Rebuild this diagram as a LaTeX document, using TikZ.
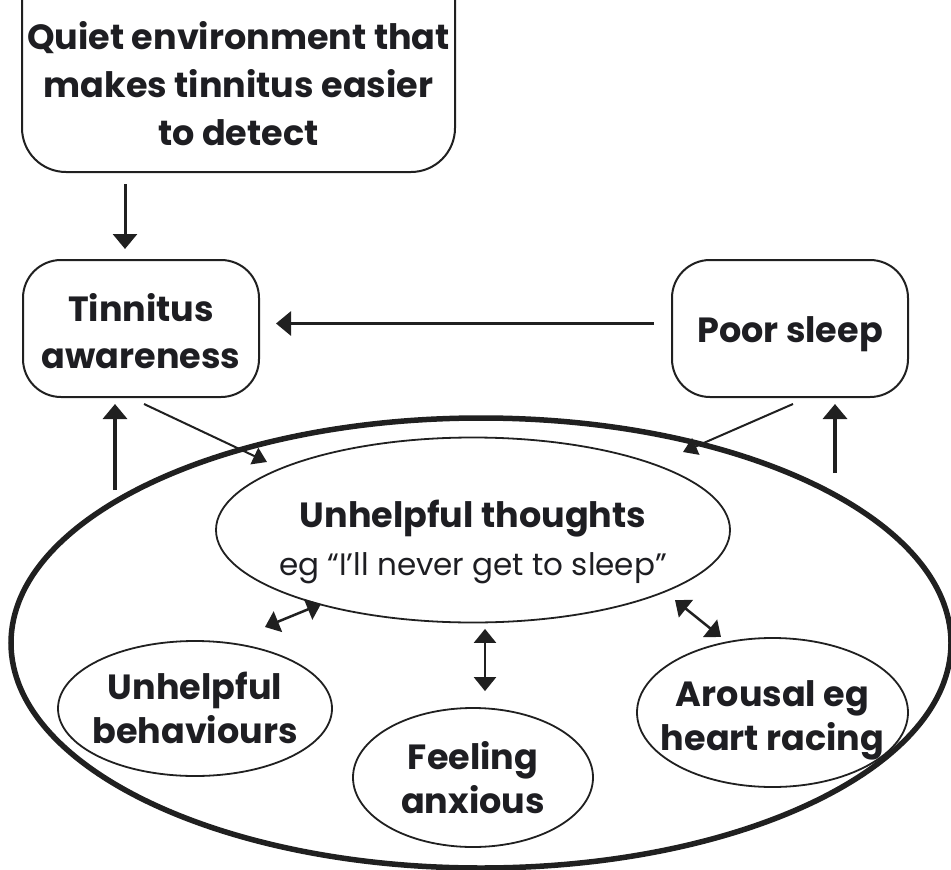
\documentclass[tikz,border=0pt]{standalone}
\usepackage{fontspec}
\setmainfont{Poppins}
\usetikzlibrary{shapes.geometric,arrows.meta}
\definecolor{ink}{HTML}{1E1E22}
\definecolor{linec}{HTML}{202020}
\begin{document}
\begin{tikzpicture}[x=1pt,y=-1pt,
  lbl/.style={text=ink, align=center, inner sep=0pt, font=\bfseries\fontsize{35}{47}\selectfont},
  boxst/.style={draw=linec, line width=2pt, rounded corners=38pt, inner sep=0pt,
    minimum width=236pt, minimum height=137pt},
  oval/.style={ellipse, draw=linec, line width=1.8pt, inner sep=0pt},
  ovallbl/.style={lbl, font=\bfseries\fontsize{35}{44}\selectfont},
  bigov/.style={ellipse, draw=linec, line width=5.5pt, inner sep=0pt,
    minimum width=940pt, minimum height=450pt},
  arr/.style={-{Triangle[length=15pt,width=24pt]}, line width=3pt, draw=linec},
  darr/.style={-{Triangle[length=14pt,width=18pt]}, line width=2pt, draw=linec},
  dbl/.style={{Triangle[length=14pt,width=22pt]}-{Triangle[length=14pt,width=22pt]},
    line width=2.5pt, draw=linec}]
\useasboundingbox (0,0) rectangle (951,870);
\fill[white] (0,0) rectangle (951,870);

% top box
\node[draw=linec, line width=2pt, rounded corners=44pt, inner sep=0pt,
  minimum width=433pt, minimum height=232pt] (quiet) at (238.5,56) {};
\node[lbl, font=\bfseries\fontsize{35}{48}\selectfont] (quiettxt) at (238.5,84)
  {Quiet environment that\\makes tinnitus easier\\to detect};

% side boxes
\node[boxst] (aware) at (141,328.5) {};
\node[lbl] (awaretxt) at (141,331) {Tinnitus\\awareness};
\node[boxst] (sleep) at (790,328.5) {};
\node[lbl] (sleeptxt) at (790,334) {Poor sleep};

% ellipses
\node[bigov] (big) at (481,643) {};
\node[oval, minimum width=514pt, minimum height=185pt] (thoughts) at (473,530) {};
\node[lbl, font=\bfseries\fontsize{35}{48}\selectfont] (thoughtstxt) at (473,542)
  {Unhelpful thoughts\\{\mdseries\fontsize{31}{48}\selectfont eg “I’ll never get to sleep”}};
\node[oval, minimum width=274pt, minimum height=135pt] (behav) at (195,708.5) {};
\node[ovallbl] (behavtxt) at (195,707.5) {Unhelpful\\behaviours};
\node[oval, minimum width=240pt, minimum height=139pt] (anx) at (473,777.5) {};
\node[ovallbl] (anxtxt) at (473,778) {Feeling\\anxious};
\node[oval, minimum width=271pt, minimum height=149pt] (arous) at (772.5,712.5) {};
\node[ovallbl] (aroustxt) at (772.5,720) {Arousal eg\\heart racing};

% connectors
\coordinate (t1) at (125,0);
\draw[arr, shorten <=11pt, shorten >=10pt] (t1 |- quiet.south) -- (t1 |- aware.north);
\draw[arr, shorten <=17pt, shorten >=16pt] ([yshift=5pt]sleep.west) -- ([yshift=5pt]aware.east);

\coordinate (bl) at (115,490);
\coordinate (br) at (835,473);
\draw[arr, line width=3.5pt, shorten >=6pt] (bl) -- (bl |- aware.south);
\draw[arr, line width=3.5pt, shorten >=6pt] (br) -- (br |- sleep.south);

\coordinate (dl) at (267,462);
\coordinate (dr) at (683,452);
\draw[darr] ([xshift=3pt,yshift=-6pt]aware.south) -- (dl);
\draw[darr] ([xshift=3pt,yshift=-6pt]sleep.south) -- (dr);

\coordinate (l1) at (265,627);
\coordinate (l2) at (321,604);
\coordinate (r1) at (675,600);
\coordinate (r2) at (721,637);
\draw[dbl] (l1) -- (l2);
\draw[dbl] (r1) -- (r2);
\draw[dbl] ([xshift=12pt,yshift=-5.5pt]thoughts.south) -- ([xshift=12pt,yshift=16pt]anx.north);
\end{tikzpicture}
\end{document}
